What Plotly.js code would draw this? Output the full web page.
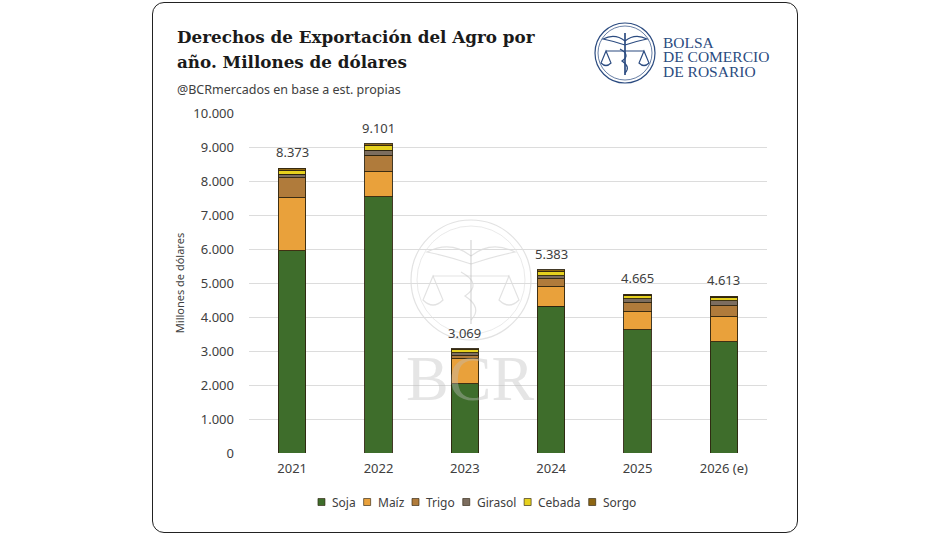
<!DOCTYPE html>
<html>
<head>
<meta charset="utf-8">
<script src="https://cdn.plot.ly/plotly-3.0.1.min.js"></script>
<style>
  html, body { margin: 0; padding: 0; background: #fff; }
  #wrap { position: relative; width: 950px; height: 535px; }
  #card {
    position: absolute; left: 152px; top: 2px; width: 646px; height: 531px;
    border: 1.5px solid #222; border-radius: 12px; box-sizing: border-box;
  }
  #plot { position: absolute; left: 0; top: 0; width: 950px; height: 535px; }
</style>
</head>
<body>
<div id="wrap">
  <div id="card"></div>
  <div id="plot"></div>
</div>
<script>
// Data (millones de USD)
const years = ['2021', '2022', '2023', '2024', '2025', '2026 (e)'];
const soja    = [5950, 7540, 2030, 4320, 3620, 3275];
const maiz    = [1560,  730,  740,  570,  540,  735];
const trigo   = [ 580,  490,   90,  230,  265,  325];
const girasol = [ 110,  150,   95,  100,  115,  145];
const cebada  = [ 100,  125,   80,  113,   95,  100];
const sorgo   = [  73,   66,   34,   50,   30,   33];
const yTicks  = [0, 1000, 2000, 3000, 4000, 5000, 6000, 7000, 8000, 9000, 10000];

const seriesNames = ['Soja', 'Maíz', 'Trigo', 'Girasol', 'Cebada', 'Sorgo'];
const seriesVals = [soja, maiz, trigo, girasol, cebada, sorgo];
const colors = ['#3e6d2b', '#e9a13b', '#b07b3b', '#7c6d5f', '#e6d11e', '#8d6613'];

// Plot area in pixels
const L = 249, R = 767, T = 113, B = 453;
const px = x => (x - L) / (R - L);
const py = y => (B - y) / (B - T);

const textCol = '#404040';
const font = 'Noto Sans, Open Sans, sans-serif';
const serif = 'DejaVu Serif, Liberation Serif, serif';

// text measuring helper
const ctx = document.createElement('canvas').getContext('2d');
function textWidth(str, size, family, weight) {
    ctx.font = (weight || 'normal') + ' ' + size + 'px ' + family;
    return ctx.measureText(str).width;
}

const traces = seriesNames.map((name, i) => ({
    type: 'bar',
    name: name,
    x: years,
    y: seriesVals[i],
    marker: {
        color: colors[i],
        line: { color: 'rgba(45,35,15,0.9)', width: 1 }
    },
    showlegend: false,
    hoverinfo: 'name+y'
}));

const totals = years.map((_, j) => seriesVals.reduce((s, arr) => s + arr[j], 0));
const fmt = v => String(v).replace(/\B(?=(\d{3})+(?!\d))/g, '.');

const annotations = totals.map((t, j) => ({
    x: j, y: t, xref: 'x', yref: 'y',
    text: fmt(t), showarrow: false,
    yanchor: 'bottom', yshift: 5,
    font: { family: font, size: 13, color: textCol }
}));

// Titles (fit line 1 to the reference width)
const titleLines = ['Derechos de Exportación del Agro por', 'año. Millones de dólares'];
const titleSize = Math.min(20, 20 * 358 / textWidth(titleLines[0], 20, '"DejaVu Serif"', 'bold'));
titleLines.forEach((t, k) => {
    annotations.push({
        xref: 'paper', yref: 'paper', x: px(175), y: py(37 + k * 25),
        xanchor: 'left', yanchor: 'middle', align: 'left', showarrow: false,
        text: '<b>' + t + '</b>',
        font: { family: serif, size: titleSize, color: '#1a1a1a' }
    });
});
annotations.push({
    xref: 'paper', yref: 'paper', x: px(175), y: py(89),
    xanchor: 'left', yanchor: 'middle', showarrow: false,
    text: '@BCRmercados en base a est. propias',
    font: { family: font, size: 12.5, color: textCol }
});

// Logo text
['BOLSA', 'DE COMERCIO', 'DE ROSARIO'].forEach((t, k) => {
    annotations.push({
        xref: 'paper', yref: 'paper', x: px(661), y: py(42 + k * 14.5),
        xanchor: 'left', yanchor: 'middle', showarrow: false, text: t,
        font: { family: 'Liberation Serif, serif', size: 15.5, color: '#2b4b80' }
    });
});

// Watermark text
annotations.push({
    xref: 'paper', yref: 'paper', x: px(470), y: py(378),
    xanchor: 'center', yanchor: 'middle', showarrow: false, text: 'BCR',
    font: { family: 'Liberation Serif, serif', size: 64, color: 'rgba(190,190,190,0.4)' }
});

const circ = (cx, cy, r, color, width, layer) => ({
    type: 'circle', xref: 'paper', yref: 'paper',
    xsizemode: 'pixel', ysizemode: 'pixel',
    xanchor: px(cx), yanchor: py(cy),
    x0: -r, x1: r, y0: -r, y1: r,
    line: { color: color, width: width }, layer: layer || 'above'
});
const pth = (cx, cy, d, color, width, layer) => ({
    type: 'path', xref: 'paper', yref: 'paper',
    xsizemode: 'pixel', ysizemode: 'pixel',
    xanchor: px(cx), yanchor: py(cy),
    path: d, line: { color: color, width: width }, layer: layer || 'above'
});

const blue = '#2b4b80';
const wm = 'rgba(190,190,190,0.45)';
// Logo icon: staff, wings, beam, scale pans
const logoParts = (cx, cy, s, col, w, layer) => [
    circ(cx, cy, 30 * s, col, w, layer),
    circ(cx, cy, 27 * s, col, 0.6 * w, layer),
    pth(cx, cy, `M 0 ${20 * s} L 0 ${-22 * s}`, col, 1.4 * w, layer),
    pth(cx, cy, `M 0 ${12 * s} Q ${-10 * s} ${20 * s} ${-22 * s} ${14 * s} Q ${-12 * s} ${12 * s} 0 ${8 * s}`, col, w, layer),
    pth(cx, cy, `M 0 ${12 * s} Q ${10 * s} ${20 * s} ${22 * s} ${14 * s} Q ${12 * s} ${12 * s} 0 ${8 * s}`, col, w, layer),
    pth(cx, cy, `M ${-19 * s} ${2 * s} L ${19 * s} ${2 * s}`, col, w, layer),
    pth(cx, cy, `M ${-19 * s} ${2 * s} L ${-24 * s} ${-10 * s} Q ${-19 * s} ${-15 * s} ${-14 * s} ${-10 * s} Z`, col, w, layer),
    pth(cx, cy, `M ${19 * s} ${2 * s} L ${14 * s} ${-10 * s} Q ${19 * s} ${-15 * s} ${24 * s} ${-10 * s} Z`, col, w, layer),
    pth(cx, cy, `M ${-5 * s} ${4 * s} Q ${6 * s} ${-2 * s} ${-3 * s} ${-8 * s} Q ${6 * s} ${-14 * s} 0 ${-20 * s}`, col, w, layer)
];

const shapes = [
    ...logoParts(625, 53, 1, blue, 1.2, 'above'),
    ...logoParts(471, 280, 2, wm, 1.2, 'below')
];

// Compact legend row, centred under the chart
const legSize = 12, legSq = 7, legGap = 6, legItemGap = 9, legY = 502;
const legWidths = seriesNames.map(n => textWidth(n, legSize, '"Noto Sans"'));
const legTotal = legWidths.reduce((s, w) => s + w + legSq + legGap, 0) + legItemGap * (seriesNames.length - 1);
let legX = 476.5 - legTotal / 2;
seriesNames.forEach((n, i) => {
    shapes.push({
        type: 'rect', xref: 'paper', yref: 'paper',
        x0: px(legX), x1: px(legX + legSq), y0: py(legY + legSq / 2), y1: py(legY - legSq / 2),
        fillcolor: colors[i], line: { color: 'rgba(45,35,15,0.8)', width: 0.8 }
    });
    annotations.push({
        xref: 'paper', yref: 'paper', x: px(legX + legSq + legGap), y: py(legY),
        xanchor: 'left', yanchor: 'middle', showarrow: false, text: n,
        borderpad: 0, font: { family: font, size: legSize, color: textCol }
    });
    legX += legSq + legGap + legWidths[i] + legItemGap;
});

const layout = {
    width: 950,
    height: 535,
    margin: { l: L, r: 950 - R, t: T, b: 535 - B, pad: 0 },
    paper_bgcolor: 'rgba(0,0,0,0)',
    plot_bgcolor: 'rgba(0,0,0,0)',
    barmode: 'stack',
    bargap: 0.68,
    separators: ',.',
    font: { family: font, size: 12, color: textCol },
    xaxis: {
        type: 'category',
        range: [-0.5, years.length - 0.5],
        autorange: false,
        showgrid: false,
        showline: false,
        ticks: '',
        tickfont: { family: font, size: 13, color: textCol },
        ticklabelstandoff: 6
    },
    yaxis: {
        range: [0, 10000],
        autorange: false,
        tickvals: yTicks,
        tickformat: ',d',
        showgrid: true,
        gridcolor: '#dcdcdc',
        gridwidth: 1,
        zeroline: false,
        showline: false,
        ticks: '',
        ticklabelstandoff: 14,
        tickfont: { family: font, size: 13, color: textCol },
        title: {
            text: 'Millones de dólares',
            font: { family: font, size: 11, color: textCol },
            standoff: 6
        }
    },
    showlegend: false,
    annotations: annotations,
    shapes: shapes
};

Plotly.newPlot('plot', traces, layout, { displayModeBar: false, responsive: false });
</script>
</body>
</html>
